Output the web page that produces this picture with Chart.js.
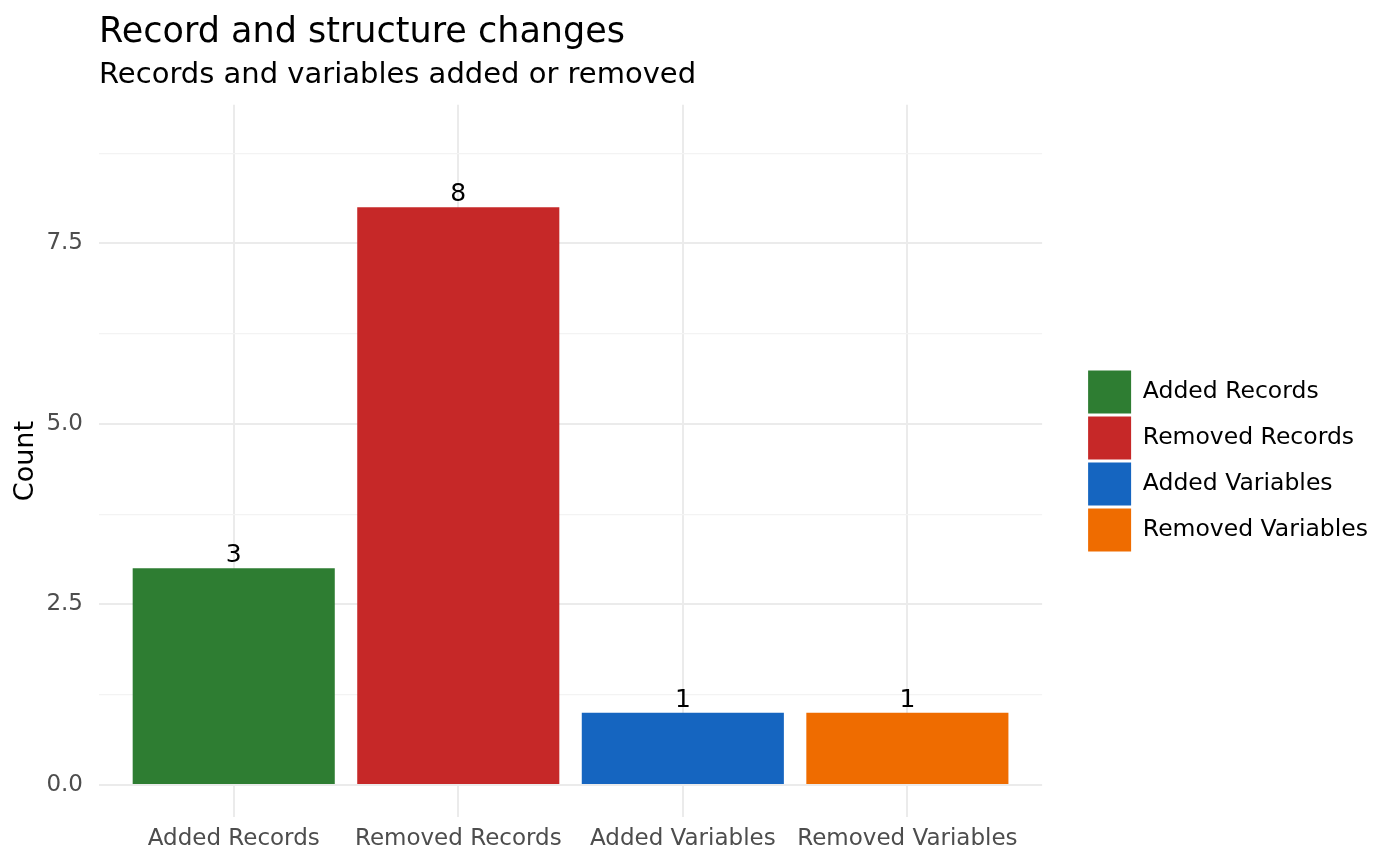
<!DOCTYPE html>
<html>
<head>
<meta charset="utf-8">
<script src="https://cdn.jsdelivr.net/npm/chart.js@4/dist/chart.umd.min.js"></script>
<style>
  html, body { margin: 0; padding: 0; background: #ffffff; }
  #wrap { width: 1400px; height: 866px; }
</style>
</head>
<body>
<div id="wrap"><canvas id="chart"></canvas></div>
<script>
const categories = ['Added Records', 'Removed Records', 'Added Variables', 'Removed Variables'];
const counts = [3, 8, 1, 1];
const barColors = ['#2E7D32', '#C62828', '#1565C0', '#EF6C00'];
const yTicks = [0, 1.25, 2.5, 3.75, 5, 6.25, 7.5, 8.75];
const yLabelTicks = [0, 2.5, 5, 7.5];

const FONT = 'DejaVu Sans';

// value labels above each bar
const barLabels = {
  id: 'barLabels',
  afterDatasetsDraw(chart) {
    const ctx = chart.ctx;
    ctx.save();
    ctx.font = `25px "${FONT}"`;
    ctx.fillStyle = '#000000';
    ctx.textAlign = 'center';
    ctx.textBaseline = 'alphabetic';
    chart.data.datasets.forEach((ds, i) => {
      const bar = chart.getDatasetMeta(i).data[0];
      if (!bar) return;
      ctx.fillText(String(ds.data[0].y), bar.x, bar.y - 6);
    });
    ctx.restore();
  }
};

// push the legend away from the panel, like ggplot's legend spacing
const legendGap = {
  id: 'legendGap',
  afterLayout(chart) {
    if (chart.legend) {
      chart.legend.left += 43;
      chart.legend.right += 43;
    }
  }
};

const isMajor = v => yLabelTicks.some(t => Math.abs(t - v) < 1e-6);

new Chart(document.getElementById('chart'), {
  type: 'bar',
  data: {
    datasets: categories.map((name, i) => ({
      label: name,
      data: [{ x: i + 1, y: counts[i] }],
      backgroundColor: barColors[i],
      borderWidth: 0,
      grouped: false,
      categoryPercentage: 1,
      barPercentage: 0.9
    }))
  },
  options: {
    responsive: true,
    maintainAspectRatio: false,
    animation: false,
    devicePixelRatio: 1,
    layout: { padding: { left: 6, right: 65, top: 0, bottom: 5 } },
    scales: {
      x: {
        type: 'linear',
        min: 0.4,
        max: 4.6,
        offset: false,
        afterBuildTicks: s => { s.ticks = categories.map((c, i) => ({ value: i + 1 })); },
        ticks: {
          autoSkip: false,
          maxRotation: 0,
          padding: 8,
          color: '#4d4d4d',
          font: { family: FONT, size: 23 },
          callback: v => categories[Math.round(v) - 1]
        },
        grid: { color: '#ebebeb', lineWidth: 2, drawTicks: false, offset: false },
        border: { display: false }
      },
      y: {
        min: -0.45,
        max: 9.42,
        afterBuildTicks: s => { s.ticks = yTicks.map(v => ({ value: v })); },
        afterFit: s => { s.width = 93; },
        ticks: {
          autoSkip: false,
          padding: 16,
          color: '#4d4d4d',
          font: { family: FONT, size: 23 },
          callback: v => isMajor(v) ? v.toFixed(1) : ''
        },
        grid: {
          drawTicks: false,
          color: c => isMajor(c.tick.value) ? '#ebebeb' : '#f3f3f3',
          lineWidth: c => isMajor(c.tick.value) ? 2 : 1.2
        },
        border: { display: false },
        title: {
          display: true,
          text: 'Count',
          color: '#000000',
          font: { family: FONT, size: 27 },
          padding: { top: 4, bottom: 4 }
        }
      }
    },
    plugins: {
      title: {
        display: true,
        text: 'Record and structure changes',
        align: 'start',
        fullSize: false,
        color: '#000000',
        font: { family: FONT, size: 35, weight: 'normal' },
        padding: { top: 12, bottom: 0 }
      },
      subtitle: {
        display: true,
        text: 'Records and variables added or removed',
        align: 'start',
        fullSize: false,
        color: '#000000',
        font: { family: FONT, size: 29, weight: 'normal' },
        padding: { top: 4, bottom: 12 }
      },
      legend: {
        position: 'right',
        align: 'center',
        fullSize: false,
        labels: {
          boxWidth: 43,
          boxHeight: 43,
          padding: 3,
          color: '#000000',
          font: { family: FONT, size: 23.5 }
        }
      },
      tooltip: { enabled: false }
    }
  },
  plugins: [barLabels, legendGap]
});
</script>
</body>
</html>
